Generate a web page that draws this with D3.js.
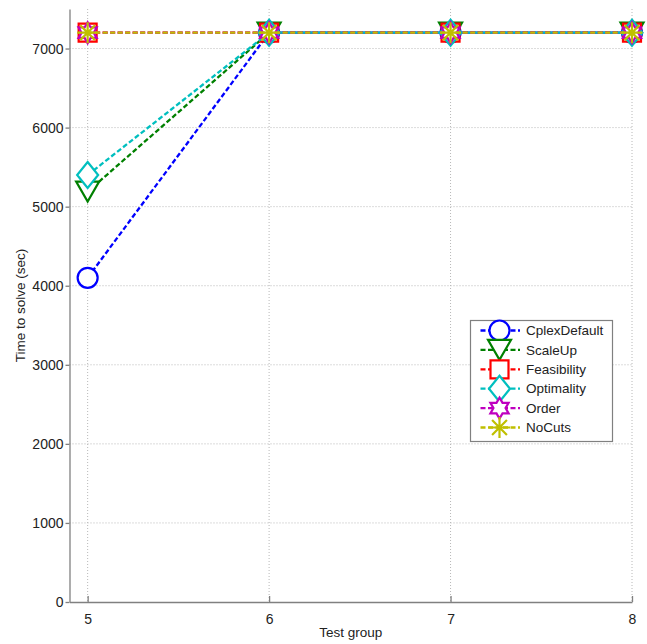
<!DOCTYPE html>
<html>
<head>
<meta charset="utf-8">
<script src="https://cdn.jsdelivr.net/npm/d3@7"></script>
<style>
  body { margin: 0; background: #fff; }
  svg { display: block; font-family: "Liberation Sans", Arial, sans-serif; }
</style>
</head>
<body>
<svg id="drawing_region"></svg>
<script>
// data
const groups = [5, 6, 7, 8];
const seriesNames = ["CplexDefault", "ScaleUp", "Feasibility", "Optimality", "Order", "NoCuts"];
const cplexDefault = [4100, 7200, 7200, 7200];
const scaleUp      = [5190, 7200, 7200, 7200];
const feasibility  = [7200, 7200, 7200, 7200];
const optimality   = [5400, 7200, 7200, 7200];
const order        = [7200, 7200, 7200, 7200];
const noCuts       = [7200, 7200, 7200, 7200];
const yTicks = [0, 1000, 2000, 3000, 4000, 5000, 6000, 7000];

const seriesValues = [cplexDefault, scaleUp, feasibility, optimality, order, noCuts];
const colors = ["#0000ff", "#008000", "#ff0000", "#00bfbf", "#bf00bf", "#bfbf00"];
const markers = ["circle", "triangleDown", "square", "diamond", "hexagram", "asterisk"];

const config = {
    width: 647,
    height: 644,
    margin: {top: 9, right: 15, bottom: 42, left: 69.5}
};

const svg = d3.select("#drawing_region")
    .attr("width", config.width)
    .attr("height", config.height);

const innerW = config.width - config.margin.left - config.margin.right;
const innerH = config.height - config.margin.top - config.margin.bottom;

const chart = svg.append("g")
    .attr("transform", `translate(${config.margin.left}, ${config.margin.top})`);

const x = d3.scaleLinear().domain([4.9, 8]).range([0, innerW]);
const y = d3.scaleLinear().domain([0, 7500]).range([innerH, 0]);

// grid
chart.append("g").selectAll("line")
    .data(groups)
    .join("line")
    .attr("x1", d => x(d)).attr("x2", d => x(d))
    .attr("y1", 0).attr("y2", innerH)
    .attr("stroke", "#b8b8b8").attr("stroke-dasharray", "1,2");

chart.append("g").selectAll("line")
    .data(yTicks.filter(d => d > 0))
    .join("line")
    .attr("x1", 0).attr("x2", innerW)
    .attr("y1", d => y(d)).attr("y2", d => y(d))
    .attr("stroke", "#b8b8b8").attr("stroke-dasharray", "1,2");

// axes
const xAxis = d3.axisBottom(x).tickValues(groups).tickFormat(d3.format("d"))
    .tickSizeInner(-6).tickSizeOuter(0).tickPadding(12);
const yAxis = d3.axisLeft(y).tickValues(yTicks).tickFormat(d3.format("d"))
    .tickSizeInner(4).tickSizeOuter(0).tickPadding(2);

const gx = chart.append("g").attr("transform", `translate(0, ${innerH})`).call(xAxis);
const gy = chart.append("g").call(yAxis);
[gx, gy].forEach(g => {
    g.select(".domain").attr("stroke", "#808080").attr("stroke-width", 1.3);
    g.selectAll(".tick line").attr("stroke", "#808080").attr("stroke-width", 1.3);
    g.selectAll(".tick text").attr("fill", "#222").attr("font-size", "14px")
        .attr("font-family", "Liberation Sans, Arial, sans-serif");
});

// axis titles
svg.append("text")
    .attr("x", config.margin.left + innerW / 2)
    .attr("y", 637)
    .attr("text-anchor", "middle")
    .attr("font-size", "13.5px").attr("fill", "#222")
    .text("Test group");

svg.append("text")
    .attr("transform", `translate(25, ${config.margin.top + innerH / 2}) rotate(-90)`)
    .attr("text-anchor", "middle")
    .attr("font-size", "13.5px").attr("fill", "#222")
    .text("Time to solve (sec)");

// marker shapes
function hexagramPath(r) {
    const pts = [];
    for (let i = 0; i < 12; i++) {
        const a = -Math.PI / 2 + i * Math.PI / 6;
        const rr = i % 2 === 0 ? r : r / Math.sqrt(3);
        pts.push([rr * Math.cos(a), rr * Math.sin(a)]);
    }
    return "M" + pts.map(p => p.join(",")).join("L") + "Z";
}
function asteriskPath(r) {
    const d = r * Math.SQRT1_2;
    return `M${-r},0L${r},0M0,${-r}L0,${r}M${-d},${-d}L${d},${d}M${-d},${d}L${d},${-d}`;
}
function markerPath(type) {
    switch (type) {
        case "circle": return d3.arc()({innerRadius: 0, outerRadius: 10, startAngle: 0, endAngle: 2 * Math.PI});
        case "triangleDown": return "M-11.5,-10L11.5,-10L0,10Z";
        case "square": return "M-9,-9L9,-9L9,9L-9,9Z";
        case "diamond": return "M0,-13L10.5,0L0,13L-10.5,0Z";
        case "hexagram": return hexagramPath(10.5);
        case "asterisk": return asteriskPath(10.5);
    }
}
const markerFill = t => t === "asterisk" ? "none" : "#fff";

const line = d3.line().x((d, i) => x(groups[i])).y(d => y(d));

seriesValues.forEach((vals, k) => {
    const g = chart.append("g");
    g.append("path")
        .datum(vals)
        .attr("d", line)
        .attr("fill", "none")
        .attr("stroke", colors[k])
        .attr("stroke-width", 2.3)
        .attr("stroke-dasharray", "5,2.5");
    g.selectAll("path.marker")
        .data(vals)
        .join("path")
        .attr("class", "marker")
        .attr("transform", (d, i) => `translate(${x(groups[i])}, ${y(d)})`)
        .attr("d", markerPath(markers[k]))
        .attr("fill", markerFill(markers[k]))
        .attr("stroke", colors[k])
        .attr("stroke-width", 2.2);
});

// legend
const legend = svg.append("g").attr("transform", "translate(470, 320)");
legend.append("rect")
    .attr("x", 0.5).attr("y", 0.5)
    .attr("width", 142).attr("height", 121)
    .attr("fill", "#fff").attr("stroke", "#808080").attr("stroke-width", 1.2);

const items = legend.selectAll("g.item")
    .data(seriesNames)
    .join("g")
    .attr("class", "item")
    .attr("transform", (d, i) => `translate(0, ${10.5 + i * 19.4})`);

items.append("line")
    .attr("x1", 10.5).attr("x2", 50)
    .attr("stroke", (d, i) => colors[i])
    .attr("stroke-width", 2.3)
    .attr("stroke-dasharray", "5,2.5");
items.append("path")
    .attr("transform", "translate(29.5, 0)")
    .attr("d", (d, i) => markerPath(markers[i]))
    .attr("fill", (d, i) => markerFill(markers[i]))
    .attr("stroke", (d, i) => colors[i])
    .attr("stroke-width", 2.2);
items.append("text")
    .attr("x", 56)
    .attr("dy", "0.35em")
    .attr("font-size", "13.5px").attr("fill", "#222")
    .text(d => d);
</script>
</body>
</html>
